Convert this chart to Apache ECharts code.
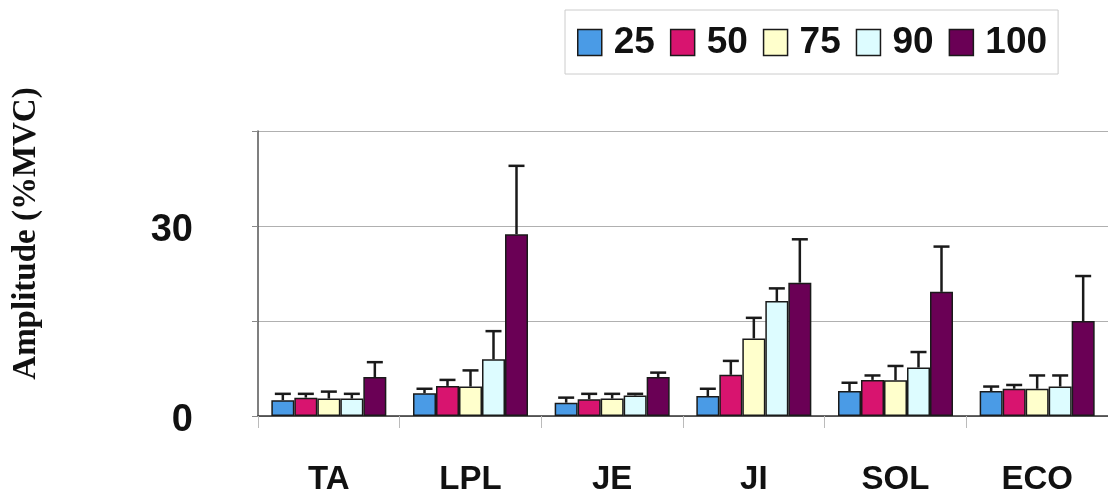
<!DOCTYPE html>
<html>
<head>
<meta charset="utf-8">
<script src="https://cdn.jsdelivr.net/npm/echarts@6/dist/echarts.min.js"></script>
<style>
  html, body { margin: 0; padding: 0; background: #fff; }
  #chart { width: 1108px; height: 498px; }
</style>
</head>
<body>
<div id="chart"></div>
<script>
// Muscles and activation levels
const categories = ['TA', 'LPL', 'JE', 'JI', 'SOL', 'ECO'];
const levels = ['25', '50', '75', '90', '100'];

// Mean amplitude (%MVC) per level, one value per muscle
const mean25  = [2.5, 3.6, 2.1, 3.15, 3.95, 3.95];
const mean50  = [2.9, 4.75, 2.65, 6.5, 5.7, 4.3];
const mean75  = [2.75, 4.65, 2.75, 12.25, 5.65, 4.3];
const mean90  = [2.75, 8.95, 3.25, 18.15, 7.65, 4.65];
const mean100 = [6.15, 28.7, 6.15, 21.05, 19.6, 15.0];

// Standard deviations (upper whiskers)
const sd25  = [1.0, 0.7, 0.8, 1.15, 1.3, 0.7];
const sd50  = [0.6, 0.95, 0.85, 2.2, 0.7, 0.6];
const sd75  = [1.1, 2.55, 0.75, 3.25, 2.25, 2.1];
const sd90  = [0.75, 4.45, 0.25, 2.0, 2.45, 1.75];
const sd100 = [2.35, 10.8, 0.7, 6.85, 7.15, 7.1];

// Y axis: only 0 and 30 are labelled
const yTickLabels = { 0: '0', 30: '30' };

const means = [mean25, mean50, mean75, mean90, mean100];
const sds = [sd25, sd50, sd75, sd90, sd100];
const colors = ['#4a9be6', '#d8146f', '#ffffcc', '#ddfcff', '#6a0055'];

const BAR_W = 23;
const sans = '"Liberation Sans", Arial, sans-serif';

const series = [];
levels.forEach((lv, i) => {
  series.push({
    name: lv,
    type: 'bar',
    data: means[i],
    barWidth: BAR_W,
    barGap: '0%',
    itemStyle: { color: colors[i], borderColor: '#1a1a1a', borderWidth: 1.5 },
    z: 2
  });
});

// Upper error whiskers, centred on each bar of the group
levels.forEach((lv, i) => {
  series.push({
    type: 'custom',
    silent: true,
    z: 5,
    data: categories.map((c, k) => [k, means[i][k], means[i][k] + sds[i][k]]),
    renderItem: function (params, api) {
      const k = api.value(0);
      const base = api.coord([k, api.value(1)]);
      const top = api.coord([k, api.value(2)]);
      const x = base[0] + (i - 2) * BAR_W;
      const cap = 8;
      const st = { stroke: '#1a1a1a', lineWidth: 2.5 };
      return {
        type: 'group',
        children: [
          { type: 'line', shape: { x1: x, y1: base[1], x2: x, y2: top[1] }, style: st },
          { type: 'line', shape: { x1: x - cap, y1: top[1], x2: x + cap, y2: top[1] }, style: st }
        ]
      };
    }
  });
});

const chart = echarts.init(document.getElementById('chart'));
chart.setOption({
  animation: false,
  backgroundColor: '#fff',
  grid: { left: 258, top: 131, width: 856, height: 285, containLabel: false },
  legend: {
    data: levels,
    left: 565,
    top: 10,
    padding: [14, 11, 13, 12],
    itemGap: 15,
    itemWidth: 24,
    itemHeight: 26,
    icon: 'rect',
    borderColor: '#cccccc',
    borderWidth: 1,
    backgroundColor: '#fff',
    itemStyle: { borderColor: '#1a1a1a', borderWidth: 1.5 },
    textStyle: { fontFamily: sans, fontWeight: 'bold', fontSize: 37, color: '#111', padding: [0, 0, 0, 7] }
  },
  xAxis: {
    type: 'category',
    data: categories,
    axisLine: { lineStyle: { color: '#333', width: 1.5 } },
    axisTick: { show: true, length: 12, lineStyle: { color: '#bbb' } },
    axisLabel: { margin: 47, fontFamily: sans, fontWeight: 'bold', fontSize: 33, color: '#111' }
  },
  yAxis: {
    type: 'value',
    min: 0,
    max: 45,
    interval: 15,
    name: 'Amplitude (%MVC)',
    nameLocation: 'middle',
    nameGap: 215,
    nameTextStyle: {
      fontFamily: '"Liberation Serif", "Times New Roman", serif', fontWeight: 'bold', fontSize: 33, color: '#111',
      padding: [0, 0, 0, 80]
    },
    axisLine: { show: true, lineStyle: { color: '#555', width: 1.5 } },
    axisTick: { show: true, length: 6, lineStyle: { color: '#888' } },
    splitLine: { show: true, lineStyle: { color: '#b0b0b0', width: 1 } },
    axisLabel: {
      margin: 65,
      fontFamily: sans, fontWeight: 'bold', fontSize: 38, color: '#111',
      formatter: v => (yTickLabels[v] !== undefined ? '{t|' + yTickLabels[v] + '}' : ''),
      rich: {
        t: { fontFamily: sans, fontWeight: 'bold', fontSize: 38, color: '#111', padding: [10, 0, 0, 0] }
      }
    }
  },
  series: series
});
</script>
</body>
</html>
